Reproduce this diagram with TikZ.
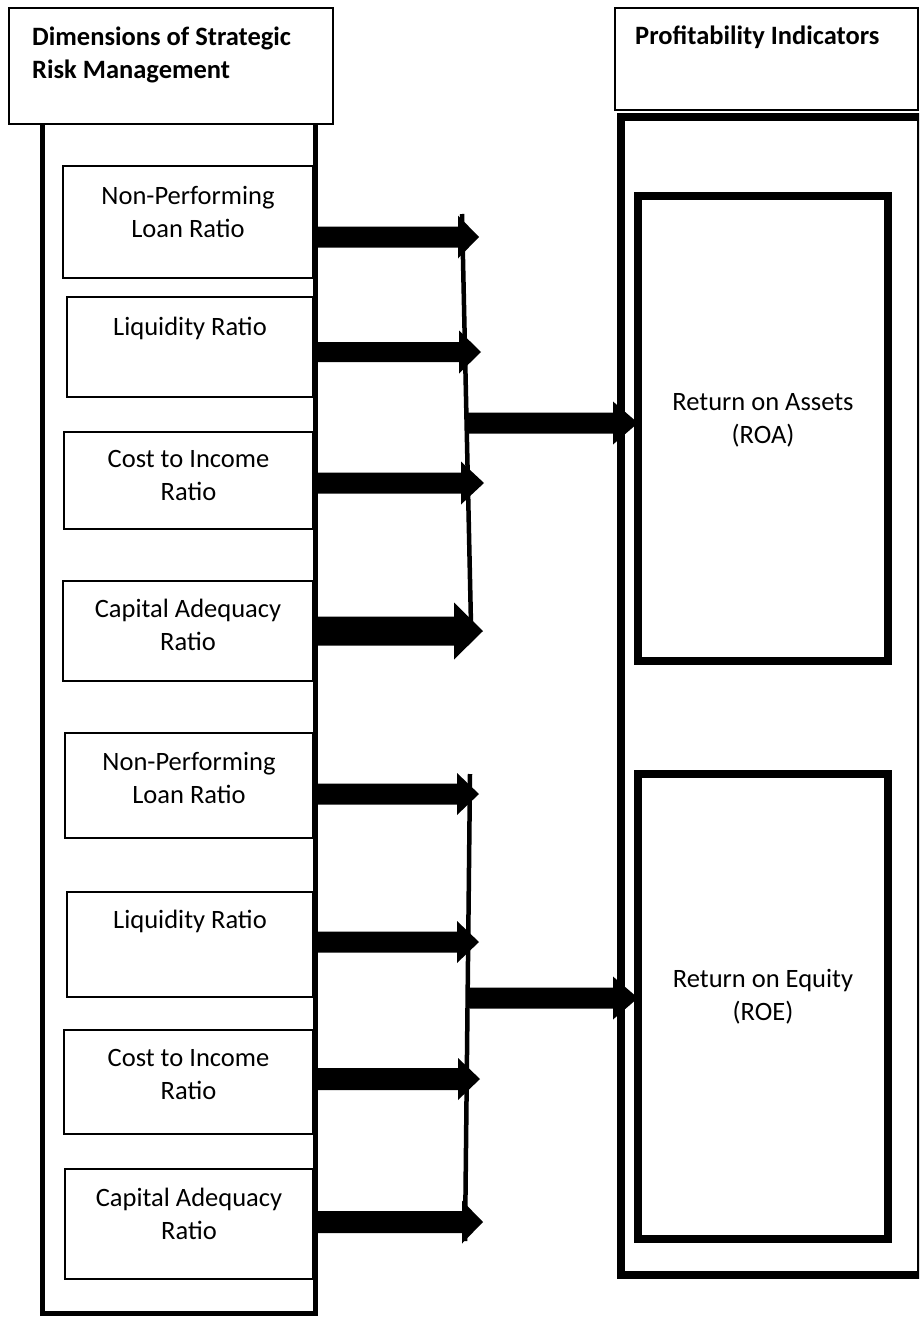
\documentclass[tikz,border=0pt]{standalone}
\usepackage{fontspec}
\setmainfont{Carlito}
\usetikzlibrary{calc}
% block arrow: start, tip, half shaft, half head, head length
\newcommand\barrow[5]{\fill let \p1=(#1), \p2=(#2) in
  (\x1,\y1+#3) -- (\x2-#5,\y1+#3) -- (\x2-#5,\y1+#4) -- (\x2,\y1)
  -- (\x2-#5,\y1-#4) -- (\x2-#5,\y1-#3) -- (\x1,\y1-#3) -- cycle;}
\begin{document}
\begin{tikzpicture}[x=1pt,y=-1pt,
  smallbox/.style={draw, line width=1.8pt, fill=white, anchor=north west, inner sep=0pt, outer sep=0pt},
  bigbox/.style={draw, line width=8pt, anchor=north west, inner sep=0pt, outer sep=0pt},
  headbox/.style={draw, line width=1.5pt, fill=white, anchor=north west, inner sep=0pt, outer sep=0pt},
  lbl/.style={font=\fontsize{26.5}{33}\selectfont, align=center, anchor=base, inner sep=0pt},
  hdr/.style={font=\bfseries\fontsize{26.5}{33}\selectfont, align=left, anchor=base west, inner sep=0pt},
  conn/.style={line width=4.5pt}]
\useasboundingbox (0,0) rectangle (919,1317);
\clip (0,0) rectangle (919,1317);
\fill[white] (0,0) rectangle (919,1317);

% left column
\draw[line width=5pt] (42.5,124) -- (42.5,1313) -- (315.8,1313) -- (315.8,124);
% right column
\draw[line width=8pt] (621,116.5) rectangle (921,1274.5);

% headers (base anchor = baseline of last line)
\node[headbox, minimum width=324pt, minimum height=116pt] (hl) at (9,8) {};
\node[hdr] (hlt) at (32,78) {Dimensions of Strategic\\Risk Management};
\node[headbox, minimum width=303pt, minimum height=102pt] (hr) at (615,8) {};
\node[hdr] (hrt) at (635,44) {Profitability Indicators};

% left boxes
\node[smallbox, minimum width=250pt, minimum height=112pt] (npl1) at (63,166) {};
\node[lbl] (npl1t) at ($(npl1.north)+(0,71)$) {Non-Performing\\Loan Ratio};
\node[smallbox, minimum width=246pt, minimum height=100pt] (liq1) at (67,297) {};
\node[lbl] (liq1t) at ($(liq1.north)+(0,38)$) {Liquidity Ratio};
\node[smallbox, minimum width=249pt, minimum height=97pt] (cost1) at (64,432) {};
\node[lbl] (cost1t) at ($(cost1.north)+(0,68)$) {Cost to Income\\Ratio};
\node[smallbox, minimum width=250pt, minimum height=100pt] (cap1) at (63,581) {};
\node[lbl] (cap1t) at ($(cap1.north)+(0,69)$) {Capital Adequacy\\Ratio};

\node[smallbox, minimum width=248pt, minimum height=105pt] (npl2) at (65,733) {};
\node[lbl] (npl2t) at ($(npl2.north)+(0,70)$) {Non-Performing\\Loan Ratio};
\node[smallbox, minimum width=246pt, minimum height=105pt] (liq2) at (67,892) {};
\node[lbl] (liq2t) at ($(liq2.north)+(0,36)$) {Liquidity Ratio};
\node[smallbox, minimum width=249pt, minimum height=104pt] (cost2) at (64,1030) {};
\node[lbl] (cost2t) at ($(cost2.north)+(0,69)$) {Cost to Income\\Ratio};
\node[smallbox, minimum width=248pt, minimum height=110pt] (cap2) at (65,1169) {};
\node[lbl] (cap2t) at ($(cap2.north)+(0,70)$) {Capital Adequacy\\Ratio};

% right boxes
\node[bigbox, minimum width=250pt, minimum height=465pt] (roa) at (638,196) {};
\node[lbl] (roat) at ($(roa.north)+(0,247)$) {Return on Assets\\(ROA)};
\node[bigbox, minimum width=250pt, minimum height=465pt] (roe) at (638,774) {};
\node[lbl] (roet) at ($(roe.north)+(0,246)$) {Return on Equity\\(ROE)};

% connector coordinates
\coordinate (c1a) at (462,214);
\coordinate (c1b) at (471,625);
\coordinate (c2a) at (470,774);
\coordinate (c2b) at (465,1241);
\coordinate (j1) at (466,423);
\coordinate (j2) at (470,998);
\coordinate (t1) at (479,237);
\coordinate (t2) at (481,352);
\coordinate (t3) at (484,483);
\coordinate (t4) at (483,631);
\coordinate (t5) at (479,794);
\coordinate (t6) at (479,942);
\coordinate (t7) at (480,1079);
\coordinate (t8) at (483,1222);

\draw[conn] (c1a) -- (c1b);
\draw[conn] (c2a) -- (c2b);

\barrow{npl1.east |- t1}{t1}{10.5pt}{21.5pt}{21pt}
\barrow{liq1.east |- t2}{t2}{10pt}{21.5pt}{22pt}
\barrow{cost1.east |- t3}{t3}{10.5pt}{21.5pt}{23pt}
\barrow{cap1.east |- t4}{t4}{14.5pt}{28.5pt}{29pt}
\barrow{j1}{roa.west |- j1}{10.5pt}{21.5pt}{25pt}

\barrow{npl2.east |- t5}{t5}{10.5pt}{21pt}{22pt}
\barrow{liq2.east |- t6}{t6}{10.5pt}{21pt}{22pt}
\barrow{j2}{roe.west |- j2}{10.5pt}{21.5pt}{25pt}
\barrow{cost2.east |- t7}{t7}{11pt}{21pt}{22pt}
\barrow{cap2.east |- t8}{t8}{11pt}{21.5pt}{21pt}
\end{tikzpicture}
\end{document}
